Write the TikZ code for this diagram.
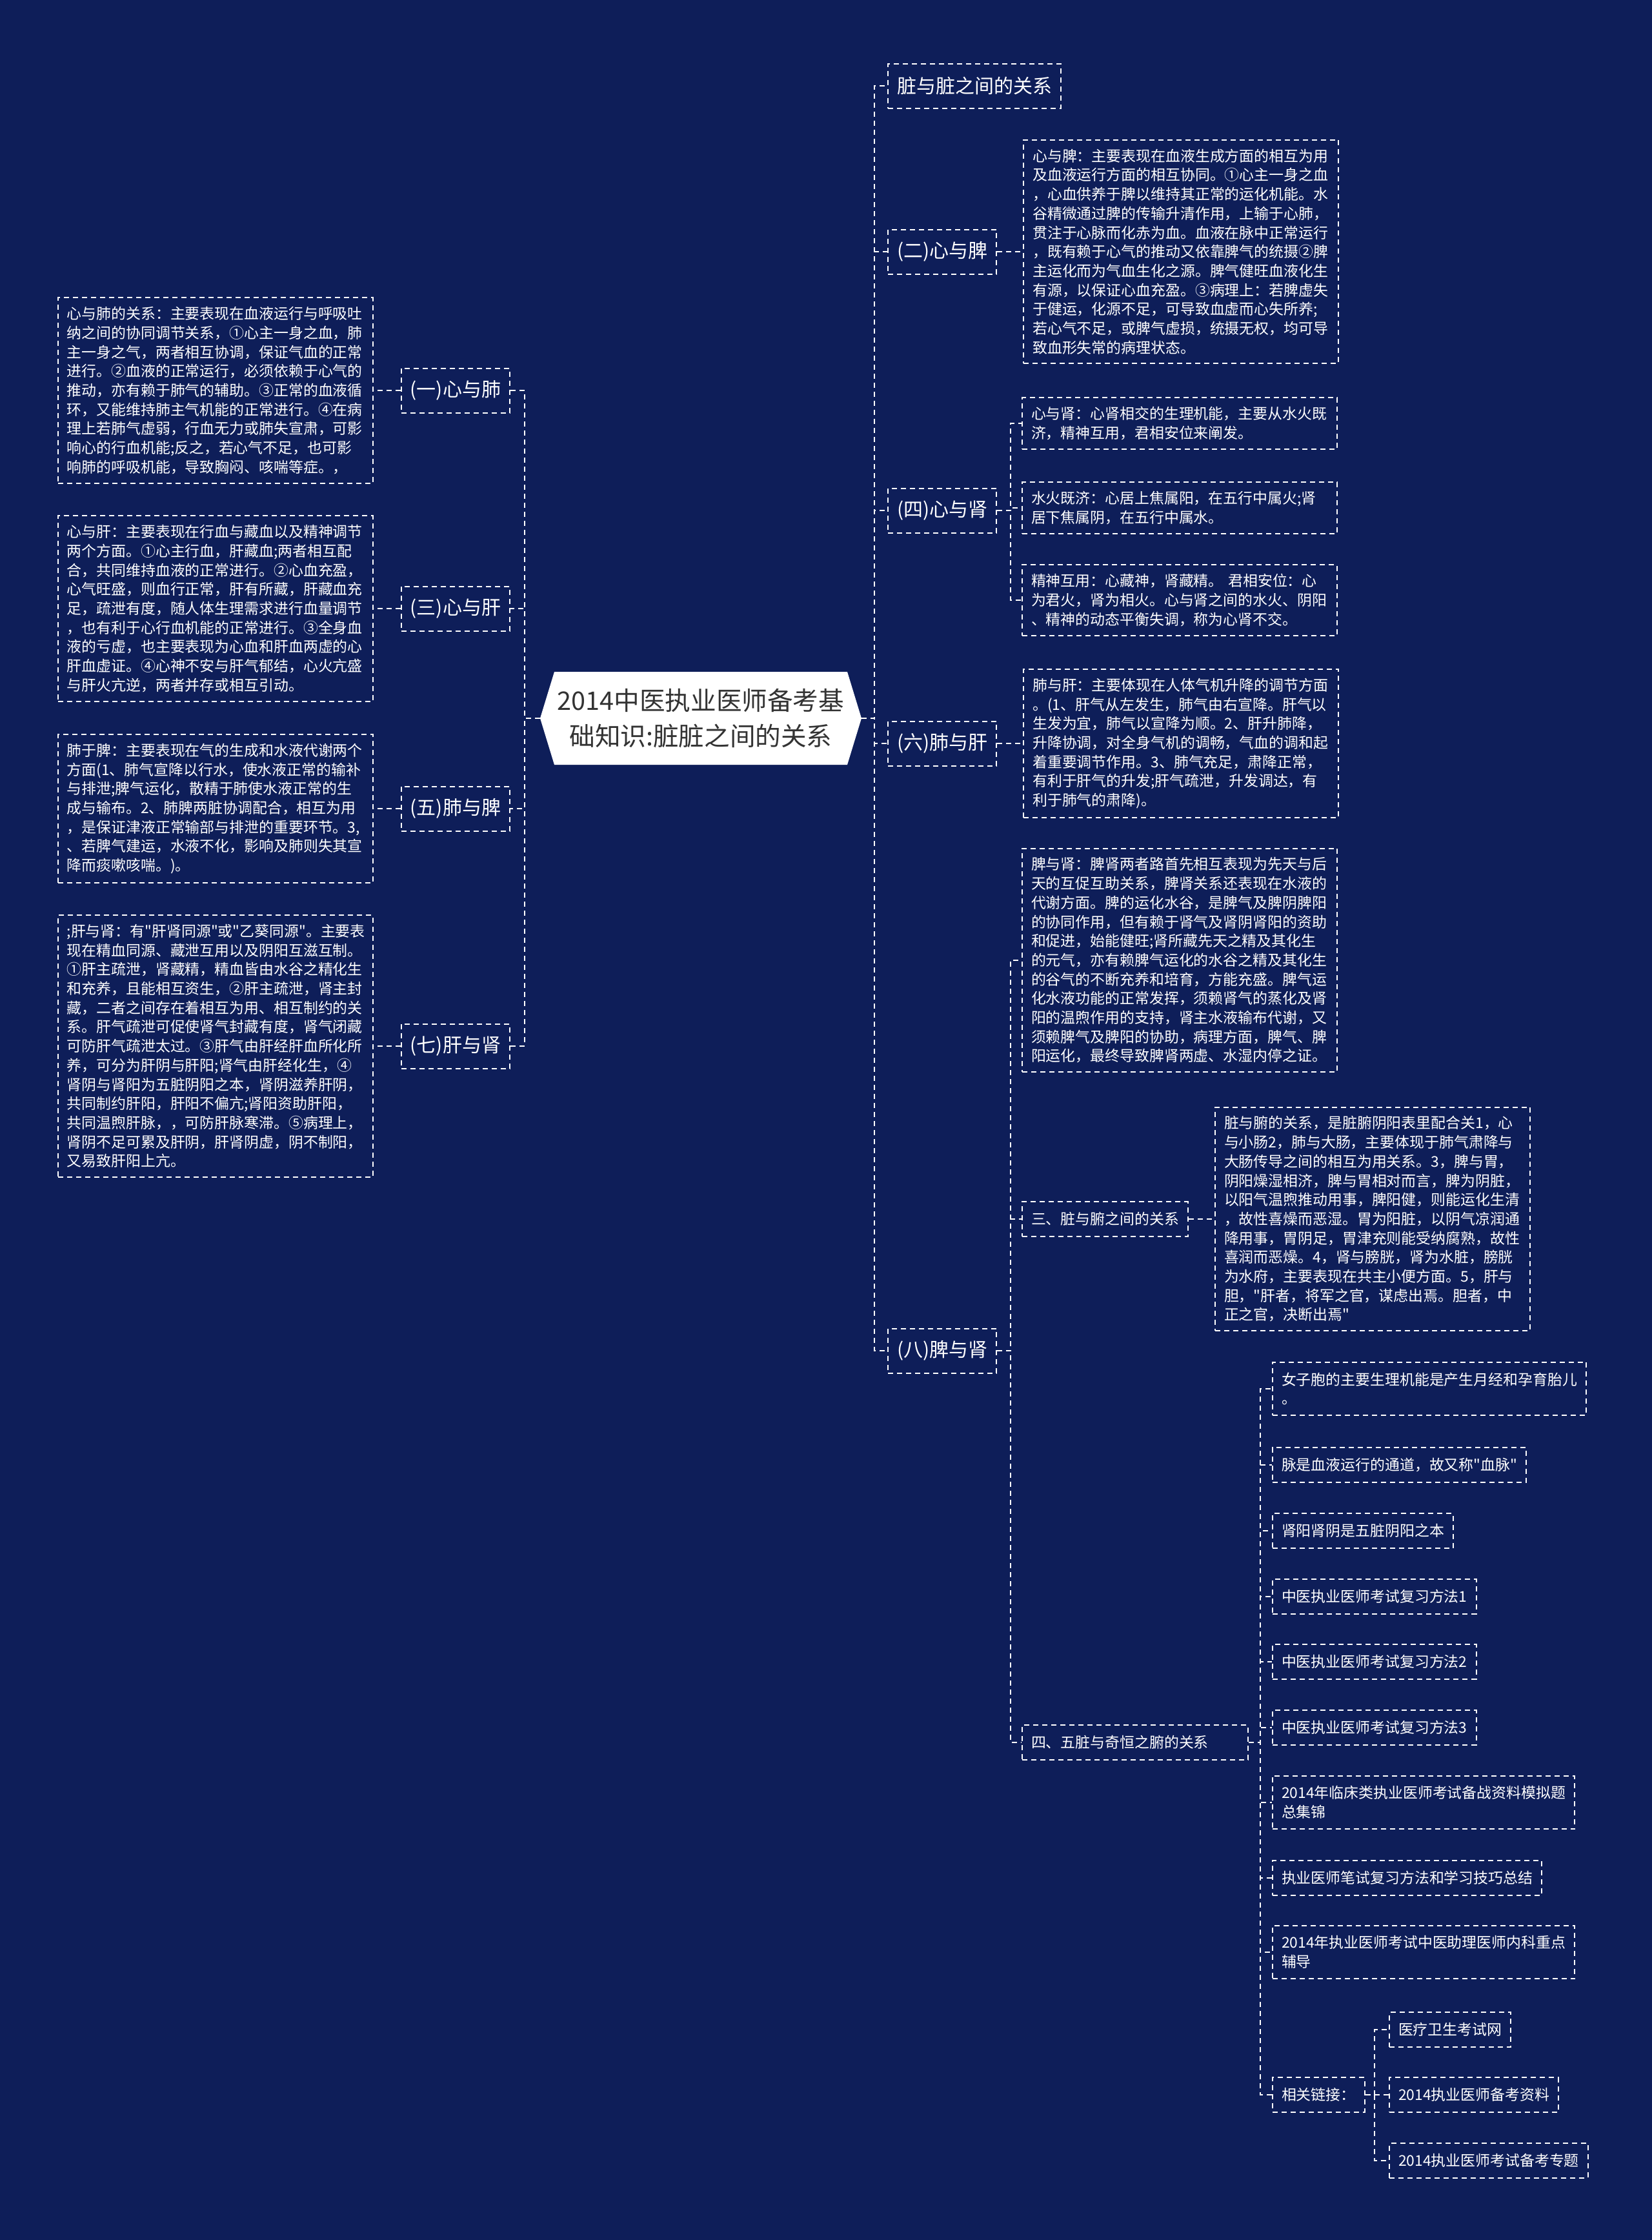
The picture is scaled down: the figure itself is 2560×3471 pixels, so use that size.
\documentclass[tikz,border=0pt]{standalone}
\usepackage{fontspec}
\newfontfamily\cjk{Noto Sans CJK SC}
\usetikzlibrary{positioning, calc}

\definecolor{navy}{RGB}{14,30,89}
\definecolor{titlegray}{RGB}{51,51,51}

\begin{document}
\begin{tikzpicture}[
 x=0.5pt, y=-0.5pt,
 node distance=20pt,
 conn/.style={draw=white, line width=1pt, dash pattern=on 4pt off 3pt},
 topic/.style={rectangle, conn, text=white, font=\cjk\fontsize{15}{18}\selectfont, inner xsep=7pt, minimum height=34.5pt},
 leaf/.style={rectangle, conn, text=white, font=\cjk\fontsize{11.45}{14.85}\selectfont, inner xsep=7pt, inner ysep=7pt, text width=230pt, align=left},
 item/.style={rectangle, conn, text=white, font=\cjk\fontsize{11.45}{14.85}\selectfont, inner xsep=7pt, inner ysep=8pt, align=left}
]
\useasboundingbox (0,0) rectangle (2560,3471);
\fill[navy] (0,0) rectangle (2560,3471);

% bus lines
\coordinate (lbus) at (813,0);
\coordinate (rbus) at (1355,0);
\coordinate (sbus) at (1566,0);
\coordinate (gbus) at (1953,0);
\coordinate (hbus) at (2130,0);

% root
\coordinate (mid) at (1086,1113);
\fill[white] ($(mid)+(-249,0)$) -- ($(mid)+(-227,-72)$) -- ($(mid)+(227,-72)$) -- ($(mid)+(249,0)$) -- ($(mid)+(227,72)$) -- ($(mid)+(-227,72)$) -- cycle;
\node[font=\cjk\fontsize{19.8}{27.7}\selectfont, text=titlegray, minimum width=249pt, minimum height=72pt, inner sep=0pt, align=center] (root) at (mid) {2014中医执业医师备考基\\础知识:脏脏之间的关系};

% left topics
\node[topic, anchor=east] (xinfei) at (791,605) {(一)心与肺};
\node[topic, anchor=east] (xingan) at (791,943) {(三)心与肝};
\node[topic, anchor=east] (feipi) at (791,1253) {(五)肺与脾};
\node[topic, anchor=east] (ganshen) at (791,1621) {(七)肝与肾};

\node[leaf, left=21pt of xinfei] (xinfeiD) {心与肺的关系：主要表现在血液运行与呼吸吐\\纳之间的协同调节关系，①心主一身之血，肺\\主一身之气，两者相互协调，保证气血的正常\\进行。②血液的正常运行，必须依赖于心气的\\推动，亦有赖于肺气的辅助。③正常的血液循\\环，又能维持肺主气机能的正常进行。④在病\\理上若肺气虚弱，行血无力或肺失宣肃，可影\\响心的行血机能;反之，若心气不足，也可影\\响肺的呼吸机能，导致胸闷、咳喘等症。，};
\node[leaf, left=21pt of xingan] (xinganD) {心与肝：主要表现在行血与藏血以及精神调节\\两个方面。①心主行血，肝藏血;两者相互配\\合，共同维持血液的正常进行。②心血充盈，\\心气旺盛，则血行正常，肝有所藏，肝藏血充\\足，疏泄有度，随人体生理需求进行血量调节\\，也有利于心行血机能的正常进行。③全身血\\液的亏虚，也主要表现为心血和肝血两虚的心\\肝血虚证。④心神不安与肝气郁结，心火亢盛\\与肝火亢逆，两者并存或相互引动。};
\node[leaf, left=21pt of feipi] (feipiD) {肺于脾：主要表现在气的生成和水液代谢两个\\方面(1、肺气宣降以行水，使水液正常的输补\\与排泄;脾气运化，散精于肺使水液正常的生\\成与输布。2、肺脾两脏协调配合，相互为用\\，是保证津液正常输部与排泄的重要环节。3,\\、若脾气建运，水液不化，影响及肺则失其宣\\降而痰嗽咳喘。)。};
\node[leaf, left=21pt of ganshen] (ganshenD) {;肝与肾：有"肝肾同源"或"乙葵同源"。主要表\\现在精血同源、藏泄互用以及阴阳互滋互制。\\①肝主疏泄，肾藏精，精血皆由水谷之精化生\\和充养，且能相互资生，②肝主疏泄，肾主封\\藏，二者之间存在着相互为用、相互制约的关\\系。肝气疏泄可促使肾气封藏有度，肾气闭藏\\可防肝气疏泄太过。③肝气由肝经肝血所化所\\养，可分为肝阴与肝阳;肾气由肝经化生，④\\肾阴与肾阳为五脏阴阳之本，肾阴滋养肝阴，\\共同制约肝阳，肝阳不偏亢;肾阳资助肝阳，\\共同温煦肝脉，，可防肝脉寒滞。⑤病理上，\\肾阴不足可累及肝阴，肝肾阴虚，阴不制阳，\\又易致肝阳上亢。};

% right topics
\node[topic, anchor=west] (zangzang) at (1375,133) {脏与脏之间的关系};
\node[topic, anchor=west] (xinpi) at (1375,390) {(二)心与脾};
\node[topic, anchor=west] (xinshen) at (1375,791) {(四)心与肾};
\node[topic, anchor=west] (feigan) at (1375,1152) {(六)肺与肝};
\node[topic, anchor=west] (pishen) at (1375,2093) {(八)脾与肾};

\node[leaf, right=of xinpi] (xinpiD) {心与脾：主要表现在血液生成方面的相互为用\\及血液运行方面的相互协同。①心主一身之血\\，心血供养于脾以维持其正常的运化机能。水\\谷精微通过脾的传输升清作用，上输于心肺，\\贯注于心脉而化赤为血。血液在脉中正常运行\\，既有赖于心气的推动又依靠脾气的统摄②脾\\主运化而为气血生化之源。脾气健旺血液化生\\有源，以保证心血充盈。③病理上：若脾虚失\\于健运，化源不足，可导致血虚而心失所养;\\若心气不足，或脾气虚损，统摄无权，均可导\\致血形失常的病理状态。};

\node[leaf, anchor=west] (xinshenA) at (1583,656) {心与肾：心肾相交的生理机能，主要从水火既\\济，精神互用，君相安位来阐发。};
\node[leaf, anchor=west] (xinshenB) at (1583,787) {水火既济：心居上焦属阳，在五行中属火;肾\\居下焦属阴，在五行中属水。};
\node[leaf, anchor=west] (xinshenC) at (1583,930) {精神互用：心藏神，肾藏精。 君相安位：心\\为君火，肾为相火。心与肾之间的水火、阴阳\\、精神的动态平衡失调，称为心肾不交。};

\node[leaf, right=of feigan] (feiganD) {肺与肝：主要体现在人体气机升降的调节方面\\。(1、肝气从左发生，肺气由右宣降。肝气以\\生发为宜，肺气以宣降为顺。2、肝升肺降，\\升降协调，对全身气机的调畅，气血的调和起\\着重要调节作用。3、肺气充足，肃降正常，\\有利于肝气的升发;肝气疏泄，升发调达，有\\利于肺气的肃降)。};

\node[leaf, anchor=west] (pishenA) at (1583,1488) {脾与肾：脾肾两者路首先相互表现为先天与后\\天的互促互助关系，脾肾关系还表现在水液的\\代谢方面。脾的运化水谷，是脾气及脾阴脾阳\\的协同作用，但有赖于肾气及肾阴肾阳的资助\\和促进，始能健旺;肾所藏先天之精及其化生\\的元气，亦有赖脾气运化的水谷之精及其化生\\的谷气的不断充养和培育，方能充盛。脾气运\\化水液功能的正常发挥，须赖肾气的蒸化及肾\\阳的温煦作用的支持，肾主水液输布代谢，又\\须赖脾气及脾阳的协助，病理方面，脾气、脾\\阳运化，最终导致脾肾两虚、水湿内停之证。};
\node[item, anchor=west] (zangfu) at (1583,1889) {三、脏与腑之间的关系};
\node[leaf, anchor=west] (zangfuD) at (1882,1889) {脏与腑的关系，是脏腑阴阳表里配合关1，心\\与小肠2，肺与大肠，主要体现于肺气肃降与\\大肠传导之间的相互为用关系。3，脾与胃，\\阴阳燥湿相济，脾与胃相对而言，脾为阴脏，\\以阳气温煦推动用事，脾阳健，则能运化生清\\，故性喜燥而恶湿。胃为阳脏，以阴气凉润通\\降用事，胃阴足，胃津充则能受纳腐熟，故性\\喜润而恶燥。4，肾与膀胱，肾为水脏，膀胱\\为水府，主要表现在共主小便方面。5，肝与\\胆，"肝者，将军之官，谋虑出焉。胆者，中\\正之官，决断出焉"};
\node[item, anchor=west, text width=161pt] (qiheng) at (1583,2700) {四、五脏与奇恒之腑的关系};

% items of qiheng
\node[item, anchor=west] (nvzi) at (1971,2152) {女子胞的主要生理机能是产生月经和孕育胎儿\\。};
\node[item, anchor=west] (xuemai) at (1971,2270) {脉是血液运行的通道，故又称"血脉"};
\node[item, anchor=west] (yinyang) at (1971,2372) {肾阳肾阴是五脏阴阳之本};
\node[item, anchor=west] (fangfa1) at (1971,2474) {中医执业医师考试复习方法1};
\node[item, anchor=west] (fangfa2) at (1971,2575) {中医执业医师考试复习方法2};
\node[item, anchor=west] (fangfa3) at (1971,2677) {中医执业医师考试复习方法3};
\node[item, anchor=west] (jijin) at (1971,2793) {2014年临床类执业医师考试备战资料模拟题\\总集锦};
\node[item, anchor=west] (jiqiao) at (1971,2910) {执业医师笔试复习方法和学习技巧总结};
\node[item, anchor=west] (fudao) at (1971,3025) {2014年执业医师考试中医助理医师内科重点\\辅导};
\node[item, anchor=west] (lianjie) at (1971,3246) {相关链接：};

\node[item, anchor=west] (wang) at (2152,3145) {医疗卫生考试网};
\node[item, anchor=west] (ziliao) at (2152,3246) {2014执业医师备考资料};
\node[item, anchor=west] (zhuanti) at (2152,3348) {2014执业医师考试备考专题};

% connectors
\foreach \n in {xinfei,xingan,feipi,ganshen}
  \draw[conn] (root.west) -- (root.west -| lbus) |- (\n.east);
\foreach \n in {zangzang,xinpi,xinshen,feigan,pishen}
  \draw[conn] (root.east) -- (root.east -| rbus) |- (\n.west);

\draw[conn] (xinfei) -- (xinfeiD);
\draw[conn] (xingan) -- (xinganD);
\draw[conn] (feipi) -- (feipiD);
\draw[conn] (ganshen) -- (ganshenD);
\draw[conn] (xinpi) -- (xinpiD);
\draw[conn] (feigan) -- (feiganD);
\draw[conn] (zangfu) -- (zangfuD);

\foreach \n in {xinshenA,xinshenB,xinshenC}
  \draw[conn] (xinshen.east) -- (xinshen.east -| sbus) |- (\n.west);
\foreach \n in {pishenA,zangfu,qiheng}
  \draw[conn] (pishen.east) -- (pishen.east -| sbus) |- (\n.west);
\foreach \n in {nvzi,xuemai,yinyang,fangfa1,fangfa2,fangfa3,jijin,jiqiao,fudao,lianjie}
  \draw[conn] (qiheng.east) -- (qiheng.east -| gbus) |- (\n.west);
\foreach \n in {wang,ziliao,zhuanti}
  \draw[conn] (lianjie.east) -- (lianjie.east -| hbus) |- (\n.west);
\end{tikzpicture}
\end{document}
